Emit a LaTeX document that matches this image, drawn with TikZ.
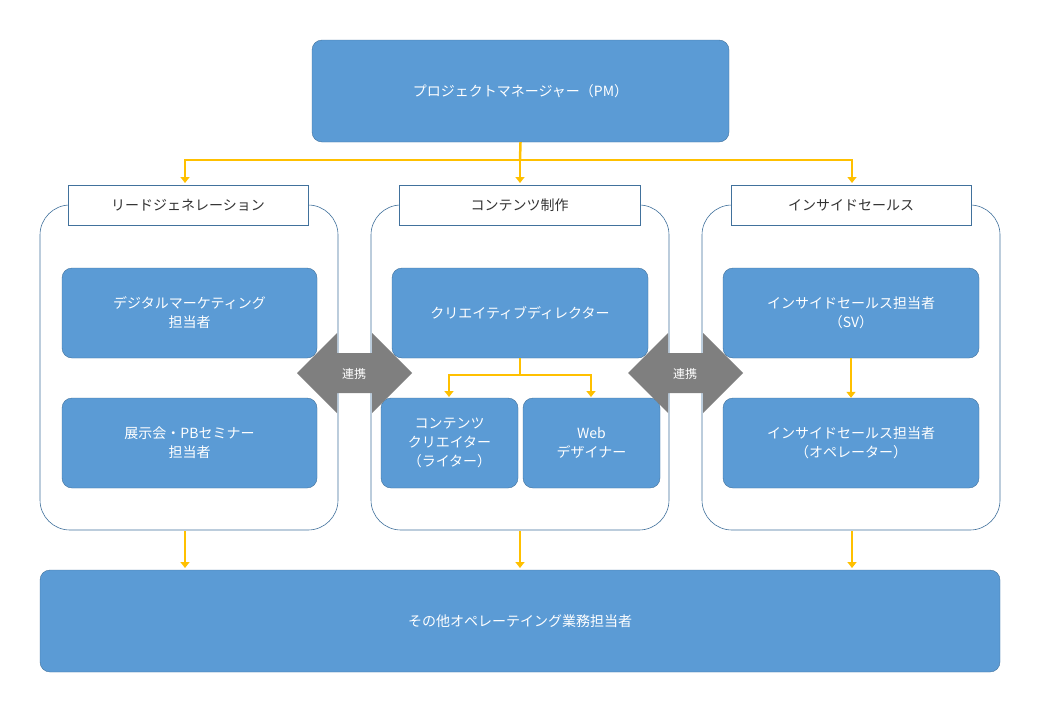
\documentclass[tikz,border=0pt]{standalone}
\usepackage{fontspec}
\setmainfont{Noto Sans CJK JP}
\usetikzlibrary{arrows.meta}
\definecolor{bfill}{HTML}{5B9BD5}
\definecolor{bline}{HTML}{41719C}
\definecolor{yel}{HTML}{FFC000}
\definecolor{gr}{HTML}{7F7F7F}
\begin{document}
\begin{tikzpicture}[x=1pt,y=-1pt,
  bbox/.style={draw=bline,fill=bfill,rounded corners=10pt,text=white,align=center,font=\fontsize{14}{19}\selectfont,inner sep=0},
  grp/.style={draw=bline,fill=white,rounded corners=30pt,line width=0.6pt},
  ttl/.style={draw=bline,fill=white,align=center,font=\fontsize{14}{18}\selectfont,text=black!80,inner sep=0},
  ya/.style={draw=yel,line width=2.5pt,-{Triangle[length=6pt,width=9pt]}},
  yl/.style={draw=yel,line width=2.5pt}]
\useasboundingbox (0,0) rectangle (1040,720);
\def\bx#1#2#3#4#5#6{\node[bbox,minimum width=#4-#2,minimum height=#5-#3] (#1) at ({(#2+#4)/2},{(#3+#5)/2}) {#6};}
\def\tl#1#2#3#4#5#6{\node[ttl,minimum width=#4-#2,minimum height=#5-#3] (#1) at ({(#2+#4)/2},{(#3+#5)/2}) {#6};}
% groups
\draw[grp] (40,205) rectangle (338,530);
\draw[grp] (371,205) rectangle (669,530);
\draw[grp] (702,205) rectangle (1000,530);
\bx{pm}{312}{40}{729}{142}{プロジェクトマネージャー（PM）}
\tl{t1}{68}{185}{308}{225}{リードジェネレーション}
\tl{t2}{399}{185}{640}{225}{コンテンツ制作}
\tl{t3}{731}{185}{971}{225}{インサイドセールス}
\bx{a1}{62}{268}{317}{358}{デジタルマーケティング\\担当者}
\bx{a2}{62}{398}{317}{488}{展示会・PBセミナー\\担当者}
\bx{b1}{392}{268}{648}{358}{クリエイティブディレクター}
\bx{b2}{381}{398}{518}{488}{コンテンツ\\クリエイター\\（ライター）}
\bx{b3}{523}{398}{660}{488}{Web\\デザイナー}
\bx{c1}{723}{268}{979}{358}{インサイドセールス担当者\\（SV）}
\bx{c2}{723}{398}{979}{488}{インサイドセールス担当者\\（オペレーター）}
\bx{bot}{40}{570}{1000}{672}{その他オペレーテイング業務担当者}
% yellow top
\coordinate (j) at (520,160);
\draw[yl] (pm.south) -- (j);
\draw[yl] (185,160) -- (852,160);
\draw[ya] (185,159) -- (185,183);
\draw[ya] (j) -- (520,183);
\draw[ya] (852,159) -- (852,183);
% mid
\coordinate (k) at (520,375);
\draw[yl] (b1.south) -- (k);
\draw[yl] (449,375) -- (591,375);
\draw[ya] (449,374) -- (449,397);
\draw[ya] (591,374) -- (591,397);
\draw[ya] (c1.south) -- (c2.north);
% bottom
\draw[ya] (185,531) -- (185,568);
\draw[ya] (520,531) -- (520,568);
\draw[ya] (852,531) -- (852,568);
% double arrows
\foreach \o/\n in {297/l1,628/l2}{
\fill[gr] (\o,373) -- (\o+40,333) -- (\o+40,353) -- (\o+75,353) -- (\o+75,333) -- (\o+115,373) -- (\o+75,413) -- (\o+75,393) -- (\o+40,393) -- (\o+40,413) -- cycle;
\node[text=white,font=\fontsize{12}{14}\selectfont] (\n) at (\o+57,374) {連携};}
\end{tikzpicture}
\end{document}
